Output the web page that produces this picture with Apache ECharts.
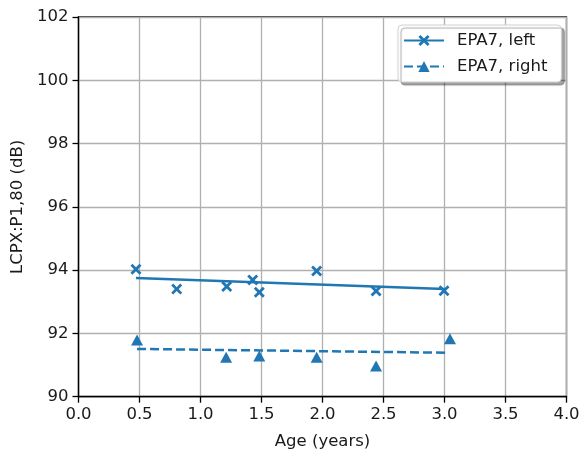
<!DOCTYPE html>
<html lang="en">
<head>
    <meta charset="UTF-8">
    <title>EPA7</title>
    <script src="https://cdn.jsdelivr.net/npm/echarts@6/dist/echarts.min.js"></script>
    <style>
        html, body { margin: 0; padding: 0; background: #fff; }
        #main { width: 579px; height: 454px; }
    </style>
</head>
<body>
<div id="main"></div>
<script type="text/javascript">
    // measured points
    var leftAge = [0.471, 0.805, 1.215, 1.428, 1.482, 1.952, 2.439, 2.996];
    var leftLevel = [94.03, 93.40, 93.48, 93.69, 93.30, 93.97, 93.34, 93.35];
    var rightAge = [0.48, 1.21, 1.482, 1.952, 2.439, 3.045];
    var rightLevel = [91.79, 91.25, 91.29, 91.25, 90.97, 91.83];
    // trend lines (end points)
    var leftFitAge = [0.471, 3.0];
    var leftFit = [93.75, 93.40];
    var rightFitAge = [0.48, 3.02];
    var rightFit = [91.51, 91.39];
    // ticks
    var xTicks = [0, 4, 0.5];
    var yTicks = [90, 102, 2];

    var blue = '#1f77b4';
    var font = 'DejaVu Sans';
    var fs = 16.5;
    var textColor = '#1a1a1a';
    var cross = 'path://M0,1.8 L1.8,0 L5,3.2 L8.2,0 L10,1.8 L6.8,5 L10,8.2 L8.2,10 L5,6.8 L1.8,10 L0,8.2 L3.2,5 Z';

    function pairs(xs, ys) {
        var out = [];
        for (var i = 0; i < xs.length; i++) out.push([xs[i], ys[i]]);
        return out;
    }

    var myChart = echarts.init(document.getElementById('main'));
    var option = {
        animation: false,
        backgroundColor: '#fff',
        textStyle: { fontFamily: font },
        grid: {
            left: 78.5, right: 12.5, top: 17, bottom: 57.3,
            outerBoundsMode: 'none',
            show: true, borderColor: '#000', borderWidth: 1.3
        },
        legend: {
            orient: 'vertical',
            left: 398, top: 25,
            data: ['EPA7, left', 'EPA7, right'],
            itemWidth: 40, itemHeight: 14, itemGap: 9,
            padding: [7, 14, 7, 5],
            backgroundColor: '#fff',
            borderColor: '#d0d0d0', borderWidth: 1, borderRadius: 4,
            shadowColor: 'rgba(0,0,0,0.35)', shadowBlur: 1,
            shadowOffsetX: 3, shadowOffsetY: 3,
            textStyle: { fontFamily: font, fontSize: fs, color: textColor, padding: [0, 0, 0, 8] }
        },
        xAxis: {
            type: 'value',
            min: xTicks[0], max: xTicks[1], interval: xTicks[2],
            name: 'Age (years)', nameLocation: 'middle', nameGap: 37,
            nameTextStyle: { fontFamily: font, fontSize: fs, color: textColor },
            axisLine: { show: true, onZero: false, lineStyle: { color: '#000', width: 1.3 } },
            axisTick: { show: true, length: 6, lineStyle: { color: '#000', width: 1.3 } },
            axisLabel: {
                margin: 10, fontFamily: font, fontSize: fs, color: textColor,
                formatter: function (v) { return v.toFixed(1); }
            },
            splitLine: { show: true, lineStyle: { color: '#b0b0b0', width: 1.3 } }
        },
        yAxis: {
            type: 'value',
            min: yTicks[0], max: yTicks[1], interval: yTicks[2],
            name: 'LCPX:P1,80 (dB)', nameLocation: 'middle', nameGap: 52,
            nameTextStyle: { fontFamily: font, fontSize: fs, color: textColor },
            axisLine: { show: true, onZero: false, lineStyle: { color: '#000', width: 1.3 } },
            axisTick: { show: true, length: 6, lineStyle: { color: '#000', width: 1.3 } },
            axisLabel: { margin: 10, fontFamily: font, fontSize: fs, color: textColor },
            splitLine: { show: true, lineStyle: { color: '#b0b0b0', width: 1.3 } }
        },
        series: [
            {
                name: 'EPA7, left',
                type: 'line',
                data: pairs(leftFitAge, leftFit),
                symbol: cross, symbolSize: 11, showSymbol: false,
                itemStyle: { color: blue },
                lineStyle: { color: blue, width: 2.5 },
                z: 2
            },
            {
                name: 'EPA7, right',
                type: 'line',
                data: pairs(rightFitAge, rightFit),
                symbol: 'triangle', symbolSize: 11, showSymbol: false,
                itemStyle: { color: blue },
                lineStyle: { color: blue, width: 2.5, type: [9, 4] },
                z: 2
            },
            {
                name: 'left points',
                type: 'scatter',
                data: pairs(leftAge, leftLevel),
                symbol: cross, symbolSize: 11,
                itemStyle: { color: blue, opacity: 1 },
                z: 3
            },
            {
                name: 'right points',
                type: 'scatter',
                data: pairs(rightAge, rightLevel),
                symbol: 'triangle', symbolSize: [12, 11],
                itemStyle: { color: blue, opacity: 1 },
                z: 3
            }
        ]
    };
    myChart.setOption(option);
</script>
</body>
</html>
